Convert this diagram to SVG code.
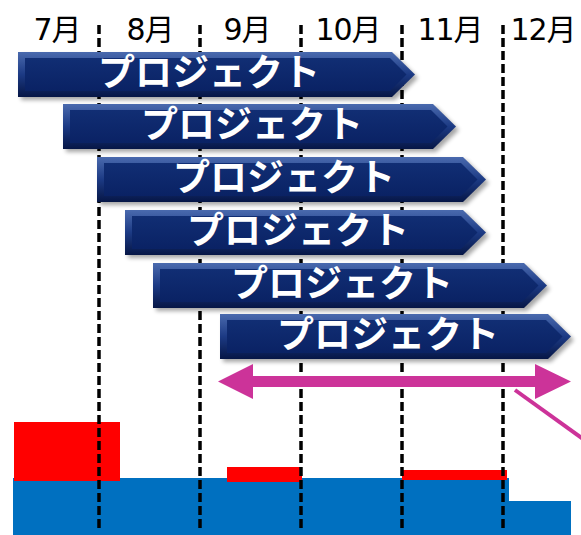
<svg xmlns="http://www.w3.org/2000/svg" width="581" height="535" viewBox="0 0 581 535">
<style>
.month{font-family:"DejaVu Sans","Noto Sans CJK JP",sans-serif;font-size:30px;fill:#000;text-anchor:middle;letter-spacing:-1px}
.lbl{font-family:"Noto Sans CJK JP","Noto Sans",sans-serif;font-size:37px;font-weight:bold;fill:#fff;text-anchor:middle}
.grid{stroke:#000;stroke-width:3.5;stroke-dasharray:9 4;fill:none}
.outer{fill:url(#bev)}
.inner{fill:url(#face)}
.shadow{fill:#000;opacity:0.35;filter:url(#blur)}
.pink{fill:#CC3399}
</style>
<defs>
<linearGradient id="bev" x1="0" y1="0" x2="0" y2="1">
<stop offset="0" stop-color="#4A6AAE"/>
<stop offset="0.5" stop-color="#1C3A84"/>
<stop offset="1" stop-color="#061646"/>
</linearGradient>
<linearGradient id="face" x1="0" y1="0" x2="0" y2="1">
<stop offset="0" stop-color="#112E74"/>
<stop offset="1" stop-color="#0A2264"/>
</linearGradient>
<filter id="blur" x="-10%" y="-30%" width="120%" height="160%">
<feGaussianBlur stdDeviation="2"/>
</filter>
</defs>
<rect width="581" height="535" fill="#fff"/>
<g id="volume">
<polygon points="13,478 509,478 509,501 571,501 571,535 13,535" fill="#0070C0"/>
<rect x="14" y="422" width="106" height="59" fill="#FF0000"/>
<rect x="227" y="467" width="75" height="15" fill="#FF0000"/>
<rect x="402" y="470" width="105" height="10" fill="#FF0000"/>
</g>
<g id="months">
<text class="month" x="57" y="40">7月</text>
<text class="month" x="150" y="40">8月</text>
<text class="month" x="247" y="40">9月</text>
<text class="month" x="348" y="40">10月</text>
<text class="month" x="450" y="40">11月</text>
<text class="month" x="543" y="40">12月</text>
</g>
<g id="gridlines">
<line class="grid" x1="99" y1="25" x2="99" y2="531"/>
<line class="grid" x1="200" y1="25" x2="200" y2="531"/>
<line class="grid" x1="301" y1="25" x2="301" y2="531"/>
<line class="grid" x1="402" y1="25" x2="402" y2="531"/>
<line class="grid" x1="503" y1="25" x2="503" y2="531"/>
</g>
<g id="bar1">
<path class="shadow" d="M21,55 H395 L418,78 L395,100 H21 Z"/>
<path class="outer" d="M18,52 H392 L415,74.5 L392,97 H18 Z"/>
<path class="inner" d="M25,58 H390 L406.5,74.5 L390,91 H25 Z"/>
<text class="lbl" x="209" y="86">プロジェクト</text>
</g>
<g id="bar2">
<path class="shadow" d="M66,107 H436 L459,130 L436,152 H66 Z"/>
<path class="outer" d="M63,104 H433 L456,126.5 L433,149 H63 Z"/>
<path class="inner" d="M70,110 H431 L447.5,126.5 L431,143 H70 Z"/>
<text class="lbl" x="252" y="138">プロジェクト</text>
</g>
<g id="bar3">
<path class="shadow" d="M100,160 H466 L489,183 L466,205 H100 Z"/>
<path class="outer" d="M97,157 H463 L486,179.5 L463,202 H97 Z"/>
<path class="inner" d="M104,163 H461 L477.5,179.5 L461,196 H104 Z"/>
<text class="lbl" x="284" y="191">プロジェクト</text>
</g>
<g id="bar4">
<path class="shadow" d="M128,213 H466 L489,236 L466,258 H128 Z"/>
<path class="outer" d="M125,210 H463 L486,232.5 L463,255 H125 Z"/>
<path class="inner" d="M132,216 H461 L477.5,232.5 L461,249 H132 Z"/>
<text class="lbl" x="298" y="244">プロジェクト</text>
</g>
<g id="bar5">
<path class="shadow" d="M156,266 H527 L550,289 L527,311 H156 Z"/>
<path class="outer" d="M153,263 H524 L547,285.5 L524,308 H153 Z"/>
<path class="inner" d="M160,269 H522 L538.5,285.5 L522,302 H160 Z"/>
<text class="lbl" x="342" y="297">プロジェクト</text>
</g>
<g id="bar6">
<path class="shadow" d="M223,317 H551 L574,340 L551,362 H223 Z"/>
<path class="outer" d="M220,314 H548 L571,336.5 L548,359 H220 Z"/>
<path class="inner" d="M227,320 H546 L562.5,336.5 L546,353 H227 Z"/>
<text class="lbl" x="388" y="348">プロジェクト</text>
</g>
<g id="connectors">
<polygon class="pink" points="218,381.5 253,364 253,376 535,376 535,364 571,381.5 535,399 535,387 253,387 253,399"/>
<line x1="515" y1="390" x2="583" y2="439" stroke="#CC3399" stroke-width="4"/>
</g>
</svg>
